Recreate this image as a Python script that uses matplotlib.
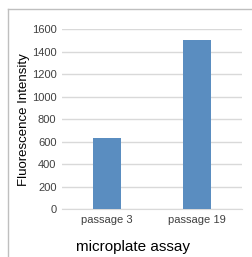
import matplotlib.pyplot as plt
from matplotlib.lines import Line2D

plt.rcParams['font.family'] = ['Liberation Sans', 'DejaVu Sans']

categories = ['passage 3', 'passage 19']
values = [630, 1500]
yticks = [0, 200, 400, 600, 800, 1000, 1200, 1400, 1600]

W, H = 252, 257
fig = plt.figure(figsize=(W / 100, H / 100), dpi=100)
ax = fig.add_axes([62 / W, 1 - 209.3 / H, 180 / W, (209.3 - 29) / H])

ax.bar(range(len(categories)), values, width=0.32, color='#5A8DC0', zorder=3)
ax.set_xlim(-0.5, len(categories) - 0.5)
ax.set_ylim(0, 1600)
ax.set_yticks(yticks)
ax.set_xticks(range(len(categories)))
ax.set_xticklabels(categories)
ax.grid(axis='y', color='#D9D9D9', lw=1, zorder=0)
for s in ['top', 'right', 'left']:
    ax.spines[s].set_visible(False)
ax.spines['bottom'].set_color('#D9D9D9')
ax.tick_params(length=0, labelsize=8, colors='#404040', pad=4)
ax.set_ylabel('Fluorescence Intensity', fontsize=9.5, color='#000000', labelpad=1)
ax.set_xlabel('microplate assay', fontsize=11, color='#000000', x=0.394, labelpad=11)

# outer frame (top and left edges only visible)
fig.add_artist(Line2D([8 / W, 8 / W], [0, 1 - 9 / H], transform=fig.transFigure, color='#BFBFBF', lw=1))
fig.add_artist(Line2D([8 / W, 1], [1 - 9 / H, 1 - 9 / H], transform=fig.transFigure, color='#BFBFBF', lw=1))

fig.savefig('out.png', dpi=100)
